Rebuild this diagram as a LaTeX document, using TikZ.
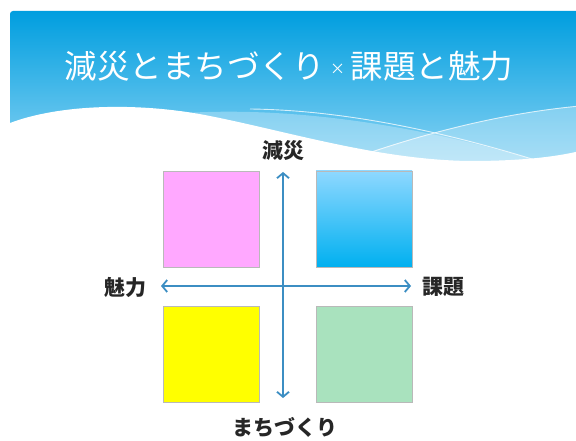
\documentclass[tikz,border=0pt]{standalone}
\usepackage{fontspec}
\newfontfamily\jp{Noto Sans CJK JP}
\usetikzlibrary{arrows.meta}
\definecolor{bannertop}{HTML}{009EDF}
\definecolor{bannerbot}{HTML}{8CD4F4}
\definecolor{axis}{HTML}{3C8EC3}
\definecolor{pinkq}{HTML}{FFA8FF}
\definecolor{blueqt}{HTML}{8ED8FF}
\definecolor{blueqb}{HTML}{00B0F0}
\definecolor{yellowq}{HTML}{FFFF00}
\definecolor{greenq}{HTML}{A9E2BE}
\tikzset{
  quad/.style={draw=gray!55, line width=0.6pt, minimum width=96pt, minimum height=96pt, inner sep=0pt},
  axislabel/.style={font=\jp\bfseries\fontsize{21}{24}\selectfont, text=black!85, inner sep=1pt},
  axisarrow/.style={draw=axis, line width=1.8pt, {Straight Barb[length=5pt,width=12pt]}-{Straight Barb[length=5pt,width=12pt]}},
  waveline/.style={draw=white, opacity=0.75, line width=0.9pt}
}
\begin{document}
\begin{tikzpicture}[x=1pt,y=-1pt]
\useasboundingbox (0,0) rectangle (576,441);
\fill[white] (0,0) rectangle (576,441);
% banner
\shade[top color=bannertop, bottom color=bannerbot, rounded corners=3pt] (10,11) rectangle (580,168);
% lighter bands
\fill[white, opacity=0.28] (185,113) .. controls (300,106) and (430,128) .. (545,163) -- (545,175) -- (185,175) -- cycle;
\fill[white, opacity=0.28] (355,157) .. controls (440,128) and (515,112) .. (580,106) -- (580,175) -- (355,175) -- cycle;
\path[waveline] (250,109) .. controls (340,110) and (440,130) .. (545,163);
\path[waveline] (360,156) .. controls (440,128) and (515,112) .. (580,106);
% white wave
\fill[white] (0,126) -- (10,123) .. controls (60,104) and (140,102) .. (210,116)
  .. controls (290,132) and (380,160) .. (470,161) .. controls (520,161) and (555,157) .. (580,151)
  -- (580,441) -- (0,441) -- cycle;
% title
\node[text=white, font=\jp\fontsize{32.5}{36}\selectfont, inner sep=0pt] (title) at (289,66)
  {減災とまちづくり\,\raisebox{4pt}{\fontsize{15}{18}\selectfont ×}\,課題と魅力};
% quadrants
\node[quad, fill=pinkq] (q1) at (211.5,219) {};
\node[quad, top color=blueqt, bottom color=blueqb] (q2) at (364,219) {};
\node[quad, fill=yellowq] (q3) at (211.5,354) {};
\node[quad, fill=greenq] (q4) at (364,354) {};
% labels
\node[axislabel] (top) at (283,151) {減災};
\node[axislabel] (bottom) at (285,427) {まちづくり};
\node[axislabel] (left) at (125,287) {魅力};
\node[axislabel] (right) at (443,287) {課題};
% axes
\coordinate (vt) at (283,172);
\coordinate (vb) at (283,398);
\coordinate (hl) at (161,286);
\coordinate (hr) at (411,286);
\draw[axisarrow] (vt) -- (vb);
\draw[axisarrow] (hl) -- (hr);
\end{tikzpicture}
\end{document}
